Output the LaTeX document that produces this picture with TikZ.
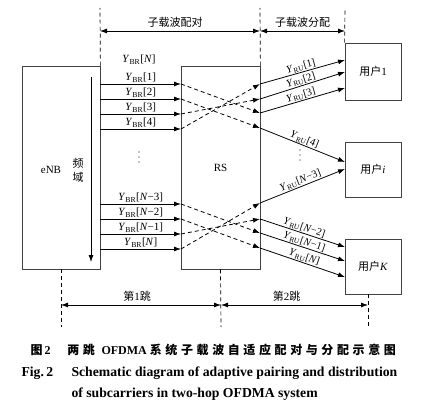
\documentclass[tikz,border=0pt]{standalone}
\usepackage{fontspec}
\setmainfont{Liberation Serif}
\newfontfamily\cjk{Noto Sans CJK SC}
\newfontfamily\cjkcap[LetterSpace=30]{Noto Sans CJK SC}
\usepackage{tikz}
\usetikzlibrary{arrows.meta}

\newcommand{\ybr}[1]{\textit{Y}\textsubscript{BR}[#1]}
\newcommand{\yru}[1]{\textit{Y}\textsubscript{RU}[#1]}
\newcommand{\capzh}[1]{{\cjkcap\bfseries #1}}

\begin{document}
\begin{tikzpicture}[x=1pt, y=-1pt,
    box/.style={draw=black!75, line width=0.8pt, inner sep=0pt, font=\fontsize{11}{13}\selectfont},
    sig/.style={-{Latex[length=7pt,width=5pt]}, line width=0.8pt},
    swap/.style={sig, dash pattern=on 4pt off 3pt},
    guide/.style={dash pattern=on 4pt off 3pt, line width=0.7pt},
    span/.style={{Latex[length=7pt,width=5pt]}-{Latex[length=7pt,width=5pt]}, line width=0.8pt},
    lab/.style={font=\fontsize{11}{12}\selectfont, inner sep=1pt},
    rlab/.style={font=\fontsize{10.5}{11}\selectfont, inner sep=0.6pt, above, sloped},
    zh/.style={font=\fontsize{11}{14}\selectfont\cjk},
    dot/.style={fill, radius=0.7pt}]
    \useasboundingbox (0,0) rectangle (423,412);

    \node[box, minimum width=78pt, minimum height=203pt] (enb) at (61,167.5) {};
    \node[font=\fontsize{11}{13}\selectfont] (enbname) at (51,170) {eNB};
    \node[box, minimum width=79pt, minimum height=203pt] (rs) at (220.5,167.5) {RS};
    \node[box, minimum width=56pt, minimum height=57pt] (u1) at (373,71.5) {{\cjk 用户}1};
    \node[box, minimum width=56pt, minimum height=55pt] (ui) at (373,169.5) {{\cjk 用户}\textit{i}};
    \node[box, minimum width=56pt, minimum height=55pt] (uk) at (373,266.5) {{\cjk 用户}\textit{K}};

    \coordinate (ftop) at (91,77);
    \coordinate (fbot) at (91,262);
    \draw[sig] (ftop) -- (fbot);
    \node[zh, align=center] (freq) at (78,170) {频\\域};

    \coordinate (l1) at (181,84);  \coordinate (l2) at (181,99);
    \coordinate (l3) at (181,114); \coordinate (l4) at (181,129);
    \coordinate (l5) at (181,204); \coordinate (l6) at (181,219);
    \coordinate (l7) at (181,234); \coordinate (l8) at (181,249);
    \coordinate (r1) at (260,84);  \coordinate (r2) at (260,99);
    \coordinate (r3) at (260,113); \coordinate (r4) at (260,128);
    \coordinate (r5) at (260,203); \coordinate (r6) at (260,219);
    \coordinate (r7) at (260,233); \coordinate (r8) at (260,248);
    \coordinate (p1) at (345,60);  \coordinate (p2) at (345,72);
    \coordinate (p3) at (345,88);  \coordinate (p4) at (345,162);
    \coordinate (p5) at (345,169); \coordinate (p6) at (345,247);
    \coordinate (p7) at (345,261); \coordinate (p8) at (345,277);

    \node[lab] (ytop) at (139,60) {\ybr{\textit{N}}};
    \draw[sig] (l1 -| enb.east) -- node[lab, above] {\ybr{1}} (l1);
    \draw[sig] (l2 -| enb.east) -- node[lab, above] {\ybr{2}} (l2);
    \draw[sig] (l3 -| enb.east) -- node[lab, above] {\ybr{3}} (l3);
    \draw[sig] (l4 -| enb.east) -- node[lab, above] {\ybr{4}} (l4);
    \draw[sig] (l5 -| enb.east) -- node[lab, above] {\ybr{\textit{N}−3}} (l5);
    \draw[sig] (l6 -| enb.east) -- node[lab, above] {\ybr{\textit{N}−2}} (l6);
    \draw[sig] (l7 -| enb.east) -- node[lab, above] {\ybr{\textit{N}−1}} (l7);
    \draw[sig] (l8 -| enb.east) -- node[lab, above] {\ybr{\textit{N}}} (l8);
    \fill[dot] (139,152) circle[] (139,157) circle[] (139,162) circle[];

    \draw[swap] (l1) -- (r3);
    \draw[swap] (l2) -- (r4);
    \draw[swap] (l3) -- (r2);
    \draw[swap] (l4) -- (r1);
    \draw[swap] (l5) -- (r7);
    \draw[swap] (l6) -- (r8);
    \draw[swap] (l7) -- (r6);
    \draw[swap] (l8) -- (r5);

    \draw[sig] (r1) -- node[rlab] {\yru{1}} (p1);
    \draw[sig] (r2) -- node[rlab] {\yru{2}} (p2);
    \draw[sig] (r3) -- node[rlab] {\yru{3}} (p3);
    \draw[sig] (r4) -- node[rlab] {\yru{4}} (p4);
    \draw[sig] (r5) -- node[rlab] {\yru{\textit{N}−3}} (p5);
    \draw[sig] (r6) -- node[rlab] {\yru{\textit{N}−2}} (p6);
    \draw[sig] (r7) -- node[rlab] {\yru{\textit{N}−1}} (p7);
    \draw[sig] (r8) -- node[rlab] {\yru{\textit{N}}} (p8);
    \fill[dot] (300,150) circle[] (300,155) circle[] (300,160) circle[];

    \coordinate (ta) at (100,8);  \coordinate (tb) at (260,8);  \coordinate (tc) at (345,8);
    \coordinate (da) at (100,31); \coordinate (db) at (260,31); \coordinate (dc) at (345,31);
    \draw[guide] (enb.north east) -- (ta);
    \draw[guide] (rs.north east) -- (tb);
    \draw[guide] (u1.north west) -- (tc);
    \draw[span] (da) -- node[zh, above, xshift=-5pt] {子载波配对} (db);
    \draw[span] (db) -- node[zh, above] {子载波分配} (dc);

    \coordinate (ba) at (61,327); \coordinate (bb) at (221,327); \coordinate (bc) at (368,327);
    \coordinate (ha) at (61,305); \coordinate (hb) at (221,305); \coordinate (hc) at (368,305);
    \draw[guide] (enb.south) -- (ba);
    \draw[guide] (rs.south) -- (bb);
    \draw[guide] (uk.south -| bc) -- (bc);
    \draw[span] (ha) -- node[zh, above, xshift=-4pt] {第{\rmfamily 1}跳} (hb);
    \draw[span] (hb) -- node[zh, above, xshift=-8pt] {第{\rmfamily 2}跳} (hc);

    \node[anchor=base west, font=\fontsize{12}{14}\selectfont] (capzh) at (27,354)
        {\capzh{图}\,\textbf{2}\hspace{1.4em}\capzh{两跳}\ \textbf{OFDMA}\ \capzh{系统子载波自适应配对与分配示意图}};
    \node[anchor=base west, font=\fontsize{13.7}{16}\selectfont\bfseries] (capfig) at (18,376) {Fig.\,2};
    \node[anchor=base west, font=\fontsize{13.7}{16}\selectfont\bfseries] (capen1) at (68,376)
        {Schematic diagram of adaptive pairing and distribution};
    \node[anchor=base west, font=\fontsize{13.7}{16}\selectfont\bfseries] (capen2) at (68,397)
        {of subcarriers in two-hop OFDMA system};
\end{tikzpicture}
\end{document}
